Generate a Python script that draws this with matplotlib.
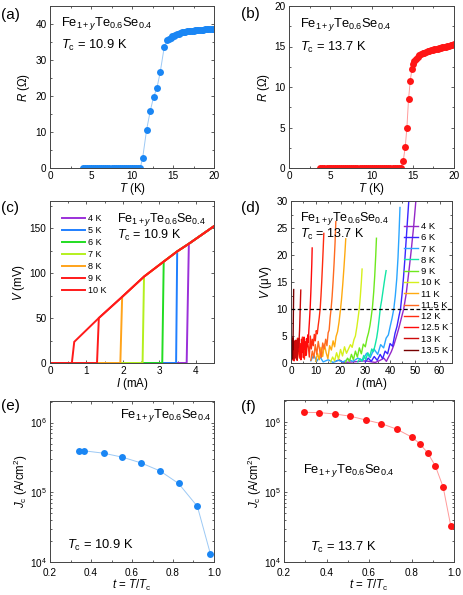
import matplotlib
matplotlib.use('Agg')
import matplotlib.pyplot as plt
from matplotlib.ticker import MultipleLocator, NullFormatter, FixedLocator

plt.rcParams['font.family'] = ['Liberation Sans', 'DejaVu Sans']
plt.rcParams['mathtext.fontset'] = 'custom'
plt.rcParams['mathtext.rm'] = 'Liberation Sans'
plt.rcParams['mathtext.it'] = 'Liberation Sans:italic'
plt.rcParams['mathtext.bf'] = 'Liberation Sans:bold'

# ---------------- data ----------------
# (a) R(T), Tc = 10.9 K
a_T = [4.0, 4.25, 4.5, 4.75, 5.0, 5.25, 5.5, 5.75, 6.0, 6.25, 6.5, 6.75, 7.0, 7.25, 7.5,
       7.75, 8.0, 8.25, 8.5, 8.75, 9.0, 9.25, 9.5, 9.75, 10.0, 10.25, 10.5, 10.75, 11.0,
       11.3, 11.78, 12.23, 12.63, 13.04, 13.44, 13.93, 14.3, 14.5,
       14.7, 14.9, 15.1, 15.3, 15.5, 15.7, 15.9, 16.1, 16.3, 16.5, 16.7, 16.9, 17.1, 17.3,
       17.5, 17.7, 17.9, 18.1, 18.3, 18.5, 18.7, 18.9, 19.1, 19.3, 19.5, 19.7, 19.9, 20.0]
a_R = [0.0, 0.0, 0.0, 0.0, 0.0, 0.0, 0.0, 0.0, 0.0, 0.0, 0.0, 0.0, 0.0, 0.0, 0.0,
       0.0, 0.0, 0.0, 0.0, 0.0, 0.0, 0.0, 0.0, 0.0, 0.0, 0.0, 0.0, 0.0, 0.0,
       2.8, 10.6, 15.9, 19.7, 22.2, 26.6, 33.6, 35.5, 35.9,
       36.25, 36.55, 36.8, 37.0, 37.2, 37.35, 37.5, 37.65, 37.75, 37.85, 37.95, 38.0, 38.07, 38.12,
       38.17, 38.22, 38.27, 38.32, 38.37, 38.41, 38.45, 38.49, 38.52, 38.55, 38.58, 38.61, 38.64, 38.65]

# (b) R(T), Tc = 13.7 K
b_T = [3.8, 4.05, 4.3, 4.55, 4.8, 5.05, 5.3, 5.55, 5.8, 6.05, 6.3, 6.55, 6.8, 7.05, 7.3,
       7.55, 7.8, 8.05, 8.3, 8.55, 8.8, 9.05, 9.3, 9.55, 9.8, 10.05, 10.3, 10.55, 10.8,
       11.05, 11.3, 11.55, 11.8, 12.05, 12.3, 12.55, 12.8, 13.05, 13.3, 13.55,
       13.85, 14.09, 14.29, 14.49, 14.7, 14.9, 15.06,
       15.2, 15.4, 15.6, 15.8, 16.0, 16.2, 16.4, 16.6, 16.8, 17.0, 17.2, 17.4, 17.6, 17.8,
       18.0, 18.2, 18.4, 18.6, 18.8, 19.0, 19.2, 19.4, 19.6, 19.8, 20.0]
b_R = [0.0, 0.0, 0.0, 0.0, 0.0, 0.0, 0.0, 0.0, 0.0, 0.0, 0.0, 0.0, 0.0, 0.0, 0.0,
       0.0, 0.0, 0.0, 0.0, 0.0, 0.0, 0.0, 0.0, 0.0, 0.0, 0.0, 0.0, 0.0, 0.0,
       0.0, 0.0, 0.0, 0.0, 0.0, 0.0, 0.0, 0.0, 0.0, 0.0, 0.0,
       0.9, 2.6, 4.97, 8.5, 10.8, 12.2, 12.9,
       13.2, 13.5, 13.75, 13.9, 14.05, 14.15, 14.25, 14.35, 14.42, 14.5, 14.55, 14.6, 14.65, 14.7,
       14.75, 14.8, 14.85, 14.9, 14.95, 15.0, 15.05, 15.1, 15.15, 15.2, 15.25]

# (c) V-I curves, Tc = 10.9 K
c_labels = ['4 K', '5 K', '6 K', '7 K', '8 K', '9 K', '10 K']
c_colors = ['#9b30d9', '#1f7fff', '#22dd22', '#b4f01e', '#ffa31a', '#ff1a1a', '#ff1a1a']
c_I_jump = [3.75, 3.46, 3.08, 2.54, 1.93, 1.29, 0.60]      # current where V leaves zero
c_I_norm = [0.665, 1.34, 1.98, 2.58, 3.12, 3.49, 3.81, 4.5]  # normal-state line (10K..4K tops, end)
c_V_norm = [23.5, 50.0, 73.5, 96.0, 112.7, 124.0, 132.5, 152.0]
c_top_index = [6, 5, 4, 3, 2, 1, 0]                          # index into normal line for each T

# (d) V-I curves, Tc = 13.7 K  (I in mA, V in microvolt)
d_labels = ['4 K', '6 K', '7 K', '8 K', '9 K', '10 K', '11 K', '11.5 K', '12 K', '12.5 K', '13 K', '13.5 K']
d_colors = ['#9428c8', '#3a24ff', '#2aa6ff', '#12e6a6', '#6ee81e', '#d6f01c', '#ffaa10',
            '#ff6a20', '#ff2c10', '#ff0a0a', '#cc0a0a', '#760000']
d_I = [
    [18.0, 19.5, 21.0, 25.0, 30.0, 34.0, 36.0, 37.5, 38.5, 39.5, 40.5, 41.5, 42.5, 43.5, 44.5,
     45.5, 46.5, 47.5, 48.5, 49.5, 50.5],
    [30.0, 31.2, 32.4, 33.6, 34.8, 36.0, 37.0, 38.0, 39.0, 40.0, 41.0, 42.0, 42.8, 43.6, 44.2,
     44.8, 45.4, 46.0, 46.6, 47.2, 47.7],
    [8.0, 9.2, 10.4, 11.6, 13.0, 15.0, 17.0, 19.0, 21.0, 23.0, 25.0, 27.0, 29.0, 30.5, 32.0,
     33.5, 35.0, 36.2, 37.4, 38.4, 39.3, 40.1, 40.8, 41.5, 42.1, 42.7, 43.2, 43.6, 44.0],
    [27.0, 27.8, 28.6, 29.4, 30.2, 31.0, 31.8, 32.6, 33.3, 34.0, 34.6, 35.1, 35.6, 36.1, 36.6,
     37.1, 37.6, 38.0, 38.4],
    [22.0, 22.8, 23.6, 24.4, 25.2, 26.0, 26.8, 27.6, 28.4, 29.2, 30.0, 30.7, 31.3, 31.9, 32.4,
     32.9, 33.4, 33.8, 34.2, 34.5],
    [16.0, 16.8, 17.6, 18.4, 19.2, 20.0, 20.8, 21.6, 22.4, 23.2, 24.0, 24.7, 25.4, 26.0, 26.6,
     27.1, 27.6, 28.0, 28.4, 28.7],
    [10.0, 10.7, 11.4, 12.1, 12.8, 13.5, 14.2, 14.9, 15.6, 16.3, 17.0, 17.6, 18.2, 18.8, 19.4,
     19.9, 20.4, 20.9, 21.4, 21.8, 22.1],
    [8.0, 8.6, 9.2, 9.8, 10.4, 11.0, 11.6, 12.2, 12.8, 13.4, 14.0, 14.5, 15.0, 15.4, 15.8,
     16.2, 16.6, 17.0, 17.4, 17.8, 18.1],
    [1.0, 1.4, 1.8, 2.2, 2.6, 3.0, 3.4, 3.8, 4.2, 4.6, 5.0, 5.4, 5.8, 6.2, 6.6, 7.0, 7.4, 7.8,
     8.2, 8.6, 9.0, 9.4, 9.8, 10.2, 10.6, 11.0, 11.4, 11.8, 12.1, 12.4, 12.7, 13.0, 13.25],
    [0.0, 0.25, 0.5, 0.75, 1.0, 1.25, 1.5, 1.75, 2.0, 2.25, 2.5, 2.75, 3.0, 3.25, 3.5, 3.75,
     4.0, 4.25, 4.5, 4.75, 5.0, 5.25, 5.5, 5.75, 6.0, 6.25, 6.5, 6.75, 7.0,
     7.2, 7.4, 7.6, 7.8, 8.0, 8.2, 8.4, 8.55],
    [0.0, 0.15, 0.3, 0.45, 0.6, 0.75, 0.9, 1.05, 1.2, 1.35, 1.5, 1.65, 1.8, 1.95, 2.1, 2.25,
     2.4, 2.55, 2.7, 2.85, 3.0, 3.15, 3.3, 3.45, 3.6, 3.75, 3.85, 3.95],
    [0.0, 0.05, 0.1, 0.15, 0.2, 0.25, 0.3, 0.35, 0.4, 0.45, 0.5, 0.55, 0.6, 0.65, 0.7, 0.75,
     0.8, 0.88, 0.95, 1.02, 1.08],
]
d_V = [
    [0.3, 0.6, 0.1, 0.2, 0.4, 0.1, 0.5, 0.9, 0.3, 1.2, 2.1, 3.3, 4.8, 6.4, 8.2, 10.0, 12.8,
     16.6, 20.7, 25.2, 30.5],
    [0.2, 0.9, 0.3, 1.2, 0.5, 1.6, 0.8, 2.2, 1.7, 3.6, 3.1, 5.5, 6.8, 8.7, 10.0, 12.6, 15.7,
     19.4, 23.5, 27.6, 31.0],
    [0.4, 1.5, 0.3, 1.2, 0.2, 0.6, 0.1, 0.5, 0.2, 0.7, 0.3, 0.9, 0.5, 1.8, 1.0, 2.6, 1.6, 3.4,
     2.8, 4.6, 5.2, 6.9, 8.3, 10.0, 12.4, 15.6, 19.5, 23.8, 28.8],
    [0.2, 0.8, 0.3, 1.4, 0.6, 1.9, 1.2, 2.6, 2.1, 3.4, 4.7, 6.2, 8.2, 10.3, 11.6, 13.2, 14.8,
     16.0, 17.1],
    [0.1, 0.9, 0.3, 1.6, 0.6, 2.2, 1.1, 2.8, 1.7, 3.5, 3.0, 4.6, 5.6, 7.0, 8.6, 10.4, 13.2,
     16.1, 19.8, 23.1],
    [0.2, 1.1, 0.4, 1.9, 0.7, 2.5, 1.3, 3.0, 1.8, 2.6, 3.4, 2.9, 4.3, 5.0, 6.7, 8.4, 10.2,
     12.4, 15.0, 17.4],
    [0.3, 1.8, 0.6, 2.9, 1.2, 3.5, 1.9, 0.8, 3.2, 2.4, 4.1, 3.0, 4.9, 5.8, 7.6, 9.6, 11.8,
     14.6, 17.8, 20.6, 23.0],
    [0.5, 2.2, 0.9, 3.4, 1.6, 4.0, 2.3, 1.0, 3.7, 2.6, 4.4, 3.2, 5.6, 6.1, 8.4, 10.1, 12.3,
     15.2, 18.5, 22.4, 26.2],
    [2.8, 0.6, 3.9, 1.3, 4.6, 2.1, 0.9, 3.6, 1.7, 4.8, 2.4, 0.7, 3.9, 1.5, 4.2, 3.0, 1.1, 5.0,
     2.6, 4.4, 3.2, 5.3, 4.1, 6.0, 5.4, 7.0, 8.4, 10.2, 12.4, 15.0, 18.0, 21.2, 24.0],
    [3.5, 0.8, 4.5, 1.6, 3.9, 0.4, 2.6, 4.2, 1.1, 3.4, 0.5, 4.0, 2.8, 4.6, 1.2, 3.3, 0.6, 4.4,
     2.0, 3.7, 1.0, 4.8, 2.5, 3.9, 1.4, 4.5, 3.0, 5.2, 3.8,
     6.0, 7.4, 9.0, 10.8, 13.0, 15.6, 18.4, 21.3],
    [1.2, 3.6, 0.5, 2.9, 1.0, 3.8, 2.2, 0.7, 3.3, 1.8, 4.0, 0.9, 3.1, 1.6, 4.2, 2.4, 0.6, 3.5,
     2.0, 4.4, 2.9, 3.8, 4.6, 6.0, 8.2, 10.5, 12.0, 13.5],
    [2.0, 3.8, 0.6, 3.2, 1.4, 4.1, 2.2, 0.9, 3.6, 1.8, 4.3, 2.6, 0.8, 3.9, 2.4, 4.6, 3.4,
     6.0, 8.8, 11.4, 13.6],
]
d_criterion = 10.0

# (e) Jc(t), Tc = 10.9 K
e_t = [0.341, 0.368, 0.461, 0.553, 0.644, 0.736, 0.827, 0.919, 0.982]
e_Jc = [3.97e5, 3.93e5, 3.64e5, 3.19e5, 2.64e5, 2.03e5, 1.34e5, 6.27e4, 1.32e4]

# (f) Jc(t), Tc = 13.7 K
f_t = [0.292, 0.365, 0.438, 0.511, 0.584, 0.657, 0.730, 0.803, 0.839, 0.876, 0.912, 0.949, 0.985]
f_Jc = [1.36e6, 1.35e6, 1.29e6, 1.20e6, 1.06e6, 9.4e5, 7.85e5, 6.0e5, 4.85e5, 3.6e5, 2.35e5,
        1.17e5, 3.24e4]

# ---------------- figure ----------------
W, H = 463, 595
fig = plt.figure(figsize=(W / 100, H / 100), dpi=100)


def add_ax(l, r, t, b):
    return fig.add_axes([l / W, 1 - b / H, (r - l) / W, (b - t) / H])


def style(ax):
    ax.tick_params(which='both', direction='in', top=True, right=True, labelsize=7.2,
                   color='#444444', width=0.6, pad=2.5)
    ax.tick_params(which='major', length=2.5)
    ax.tick_params(which='minor', length=1.5)
    for s in ax.spines.values():
        s.set_color('#444444')
        s.set_linewidth(0.7)


LBL = 8.3
FORM = 'Fe$_{1+y}$Te$_{0.6}$Se$_{0.4}$'
ANN = 9.3
BLUE = '#1a86f4'
BLUE_L = '#9cc9f5'
RED = '#ff1515'
RED_L = '#ff9a9a'


def ann(ax, x, y, s, size=ANN):
    ax.text(x, y, s, transform=ax.transAxes, fontsize=size, va='baseline', ha='left')


# (a)
ax = add_ax(50, 214, 6, 168)
style(ax)
ax.plot(a_T, a_R, '-', color=BLUE_L, lw=0.7, zorder=1)
ax.plot(a_T, a_R, 'o', color=BLUE, ms=5, mec='none', zorder=2)
ax.set_xlim(0, 20)
ax.set_ylim(0, 45)
ax.xaxis.set_major_locator(MultipleLocator(5))
ax.xaxis.set_minor_locator(MultipleLocator(2.5))
ax.yaxis.set_major_locator(MultipleLocator(10))
ax.yaxis.set_minor_locator(MultipleLocator(5))
ax.set_xlabel('$T$ (K)', fontsize=LBL, labelpad=0)
ax.set_ylabel('$R$ (Ω)', fontsize=LBL, labelpad=2)
ann(ax, 0.067, 0.878, FORM)
ann(ax, 0.067, 0.733, '$T_\\mathrm{c}$ = 10.9 K')

# (b)
ax = add_ax(289, 454, 6, 168)
style(ax)
ax.plot(b_T, b_R, '-', color=RED_L, lw=0.7, zorder=1)
ax.plot(b_T, b_R, 'o', color=RED, ms=5, mec='none', zorder=2)
ax.set_xlim(0, 20)
ax.set_ylim(0, 20)
ax.xaxis.set_major_locator(MultipleLocator(5))
ax.xaxis.set_minor_locator(MultipleLocator(2.5))
ax.yaxis.set_major_locator(MultipleLocator(5))
ax.yaxis.set_minor_locator(MultipleLocator(2.5))
ax.set_xlabel('$T$ (K)', fontsize=LBL, labelpad=0)
ax.set_ylabel('$R$ (Ω)', fontsize=LBL, labelpad=2)
ann(ax, 0.068, 0.872, FORM)
ann(ax, 0.068, 0.724, '$T_\\mathrm{c}$ = 13.7 K')

# (c)
ax = add_ax(50, 214, 201, 363)
style(ax)
for lab, col, ij, k in zip(c_labels, c_colors, c_I_jump, c_top_index):
    xs = [0.0, ij] + c_I_norm[k:]
    ys = [0.0, 0.0] + c_V_norm[k:]
    ax.plot(xs, ys, '-', color=col, lw=1.4, label=lab, solid_joinstyle='miter')
ax.set_xlim(0, 4.5)
ax.set_ylim(0, 180)
ax.xaxis.set_major_locator(MultipleLocator(1))
ax.xaxis.set_minor_locator(MultipleLocator(0.5))
ax.yaxis.set_major_locator(MultipleLocator(50))
ax.yaxis.set_minor_locator(MultipleLocator(25))
ax.set_xlabel('$I$ (mA)', fontsize=LBL, labelpad=0)
ax.set_ylabel('$V$ (mV)', fontsize=LBL, labelpad=2)
ax.legend(loc='upper left', bbox_to_anchor=(0.021, 0.975), frameon=False, fontsize=6.5,
          handlelength=2.55, handletextpad=0.25, labelspacing=0.33, borderpad=0.5)
ann(ax, 0.41, 0.868, FORM, 9.0)
ann(ax, 0.41, 0.764, '$T_\\mathrm{c}$ = 10.9 K', 9.0)

# (d)
ax = add_ax(291, 452, 201, 363)
style(ax)
for lab, col, xs, ys in zip(d_labels, d_colors, d_I, d_V):
    ax.plot(xs, ys, '-', color=col, lw=1.0, label=lab)
ax.axhline(d_criterion, color='black', lw=0.9, ls=(0, (3, 2)), zorder=5)
ax.set_xlim(0, 65)
ax.set_ylim(0, 30)
ax.xaxis.set_major_locator(MultipleLocator(10))
ax.xaxis.set_minor_locator(MultipleLocator(5))
ax.yaxis.set_major_locator(MultipleLocator(5))
ax.yaxis.set_minor_locator(MultipleLocator(2.5))
ax.set_xlabel('$I$ (mA)', fontsize=LBL, labelpad=0)
ax.set_ylabel('$V$ (μV)', fontsize=LBL, labelpad=2)
ax.legend(loc='upper right', bbox_to_anchor=(1.025, 0.917), frameon=False, fontsize=6.8,
          handlelength=1.5, handletextpad=0.3, labelspacing=0.24, borderpad=0.3)
ann(ax, 0.056, 0.875, FORM, 9.0)
ann(ax, 0.056, 0.774, '$T_\\mathrm{c}$ = 13.7 K', 9.0)

# (e)
ax = add_ax(50, 214, 401, 562)
style(ax)
ax.tick_params(axis='x', which='major', pad=4)
ax.plot(e_t, e_Jc, '-', color=BLUE_L, lw=0.7, zorder=1)
ax.plot(e_t, e_Jc, 'o', color=BLUE, ms=5, mec='none', zorder=2)
ax.set_yscale('log')
ax.set_xlim(0.2, 1.0)
ax.set_ylim(1e4, 2.04e6)
ax.xaxis.set_major_locator(FixedLocator([0.2, 0.4, 0.6, 0.8, 1.0]))
ax.xaxis.set_minor_locator(MultipleLocator(0.1))
ax.set_xticklabels(['0.2', '0.4', '0.6', '0.8', '1.0'])
ax.yaxis.set_minor_formatter(NullFormatter())
ax.set_xlabel('$t$ = $T$/$T_\\mathrm{c}$', fontsize=LBL, labelpad=0)
ax.set_ylabel('$J_\\mathrm{c}$ (A/cm$^2$)', fontsize=LBL, labelpad=0)
ann(ax, 0.427, 0.893, FORM)
ann(ax, 0.104, 0.079, '$T_\\mathrm{c}$ = 10.9 K')

# (f)
ax = add_ax(284, 454, 400, 562)
style(ax)
ax.tick_params(axis='x', which='major', pad=4)
ax.plot(f_t, f_Jc, '-', color=RED_L, lw=0.7, zorder=1)
ax.plot(f_t, f_Jc, 'o', color=RED, ms=5, mec='none', zorder=2)
ax.set_yscale('log')
ax.set_xlim(0.2, 1.0)
ax.set_ylim(1e4, 2.04e6)
ax.xaxis.set_major_locator(FixedLocator([0.2, 0.4, 0.6, 0.8, 1.0]))
ax.xaxis.set_minor_locator(MultipleLocator(0.1))
ax.set_xticklabels(['0.2', '0.4', '0.6', '0.8', '1.0'])
ax.yaxis.set_minor_formatter(NullFormatter())
ax.set_xlabel('$t$ = $T$/$T_\\mathrm{c}$', fontsize=LBL, labelpad=0)
ax.set_ylabel('$J_\\mathrm{c}$ (A/cm$^2$)', fontsize=LBL, labelpad=0)
ann(ax, 0.11, 0.548, FORM)
ann(ax, 0.153, 0.068, '$T_\\mathrm{c}$ = 13.7 K')

# panel labels (pixel positions)
for lab, x, y in [('(a)', 1, 15), ('(b)', 241, 14), ('(c)', 1, 208), ('(d)', 241, 208),
                  ('(e)', 1, 406), ('(f)', 241, 407)]:
    fig.text(x / W, 1 - y / H, lab, fontsize=11, va='center', ha='left')

fig.savefig('out.png', dpi=100)
